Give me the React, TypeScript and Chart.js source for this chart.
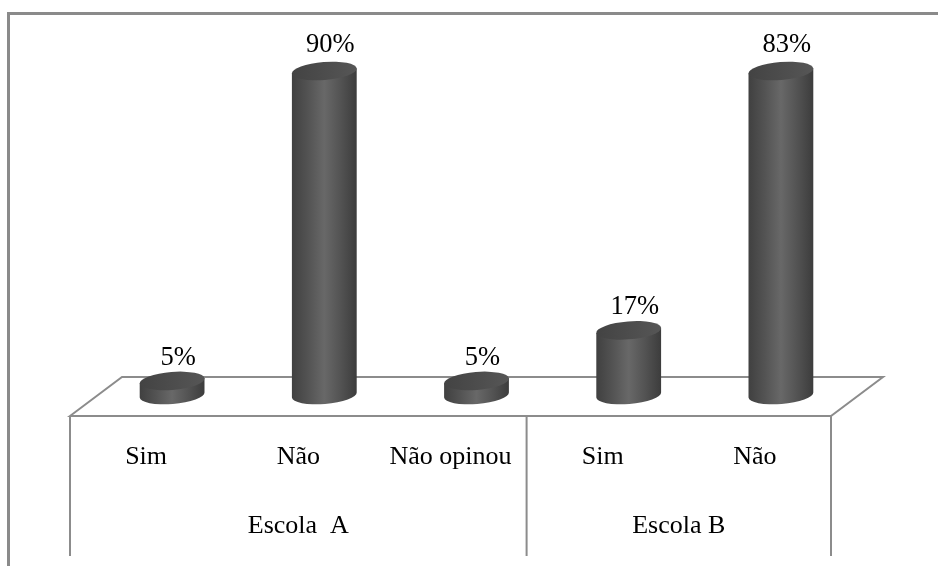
import React, { useEffect, useRef } from "react";
import { Chart, registerables } from "chart.js";

Chart.register(...registerables);

const categories = ["Sim", "Não", "Não opinou", "Sim", "Não"];
const percentValues = [5, 90, 5, 17, 83];
const groupLabels = ["Escola  A", "Escola B"];
const groupSizes = [3, 2];

// The tall columns reach the top of the value axis and are cut off there.
const axisMin = 1.66;
const axisMax = 78.6;

const lineColor = "#8c8c8c";
const textFont = "26px 'Liberation Serif', serif";
const valueFont = "26.5px 'Liberation Serif', serif";

const cylinders = {
  id: "cylinders",
  afterDatasetsDraw(chart: any) {
    const { ctx, chartArea, scales } = chart;
    const bars = chart.getDatasetMeta(0).data;
    const step = (scales.x.right - scales.x.left) / categories.length;
    const depth = 26;
    const frontY = chartArea.bottom + 21;
    const backY = chartArea.bottom - 18;
    const L = chartArea.left;
    const R = chartArea.right;
    const W = chart.width;
    const H = chart.height;

    ctx.save();
    ctx.lineCap = "butt";

    // outer frame
    ctx.strokeStyle = "#8a8a8a";
    ctx.lineWidth = 3;
    ctx.beginPath();
    ctx.moveTo(8.5, H);
    ctx.lineTo(8.5, 13.5);
    ctx.lineTo(W, 13.5);
    ctx.stroke();

    // floor
    ctx.strokeStyle = lineColor;
    ctx.lineWidth = 2;
    ctx.beginPath();
    ctx.moveTo(L - depth, frontY);
    ctx.lineTo(L + depth, backY);
    ctx.lineTo(R + depth, backY);
    ctx.lineTo(R - depth, frontY);
    ctx.closePath();
    ctx.stroke();

    // group dividers
    const bottomLine = 556;
    let acc = 0;
    const edges = [0, ...groupSizes.map((n) => (acc += n))];
    ctx.beginPath();
    edges.forEach((n) => {
      const x = L - depth + n * step;
      ctx.moveTo(x, frontY);
      ctx.lineTo(x, bottomLine);
    });
    ctx.stroke();

    // cylinders
    const rotation = -0.08;
    const ry = 9;
    bars.forEach((el: any, i: number) => {
      const cx = el.x;
      const rx = el.width / 2;
      const clipped = el.y < chartArea.top;
      const topY = Math.max(el.y, chartArea.top);
      const baseY = chartArea.bottom;
      const dx = rx * Math.cos(rotation);
      const dy = rx * Math.sin(rotation);

      const side = ctx.createLinearGradient(cx - rx, 0, cx + rx, 0);
      side.addColorStop(0, "#404040");
      side.addColorStop(0.25, "#535353");
      side.addColorStop(0.5, "#686868");
      side.addColorStop(0.75, "#535353");
      side.addColorStop(1, "#3c3c3c");
      ctx.fillStyle = side;
      ctx.beginPath();
      ctx.moveTo(cx - dx, topY - dy);
      ctx.ellipse(cx, baseY, rx, ry, rotation, Math.PI, 0, true);
      ctx.lineTo(cx + dx, topY + dy);
      ctx.closePath();
      ctx.fill();

      const cap = ctx.createLinearGradient(cx - rx, 0, cx + rx, 0);
      cap.addColorStop(0, "#434343");
      cap.addColorStop(1, "#565656");
      ctx.fillStyle = cap;
      ctx.beginPath();
      ctx.ellipse(cx, topY, rx, ry, rotation, 0, Math.PI * 2);
      ctx.fill();

      // value labels
      ctx.fillStyle = "#000000";
      ctx.font = valueFont;
      ctx.textAlign = "center";
      ctx.textBaseline = "middle";
      ctx.fillText(`${percentValues[i]}%`, cx + 6, topY - (clipped ? 26 : 23));

      // category labels sit on the front face of the floor
      ctx.font = textFont;
      ctx.fillText(categories[i], cx - depth, 457);
    });

    // group labels
    ctx.fillStyle = "#000000";
    ctx.font = textFont;
    groupLabels.forEach((label, g) => {
      const mid = (edges[g] + edges[g + 1]) / 2;
      ctx.fillText(label, L - depth + mid * step, 526);
    });
    ctx.restore();
  },
};

export default function App() {
  const ref = useRef<HTMLCanvasElement>(null);
  useEffect(() => {
    const chart = new Chart(ref.current!, {
      type: "bar",
      data: {
        labels: categories,
        datasets: [
          {
            data: percentValues,
            backgroundColor: "transparent",
            borderWidth: 0,
            barThickness: 65,
          },
        ],
      },
      options: {
        responsive: false,
        animation: false,
        devicePixelRatio: 1,
        layout: { padding: { left: 96, right: 81, top: 71, bottom: 171 } },
        plugins: { legend: { display: false }, tooltip: { enabled: false } },
        scales: {
          x: { display: false },
          y: { display: false, min: axisMin, max: axisMax },
        },
      },
      plugins: [cylinders],
    } as any);
    return () => chart.destroy();
  }, []);
  return (
    <canvas
      ref={ref}
      width={938}
      height={566}
      style={{ position: "absolute", left: 0, top: 0, width: 938, height: 566, background: "#fff" }}
    />
  );
}
